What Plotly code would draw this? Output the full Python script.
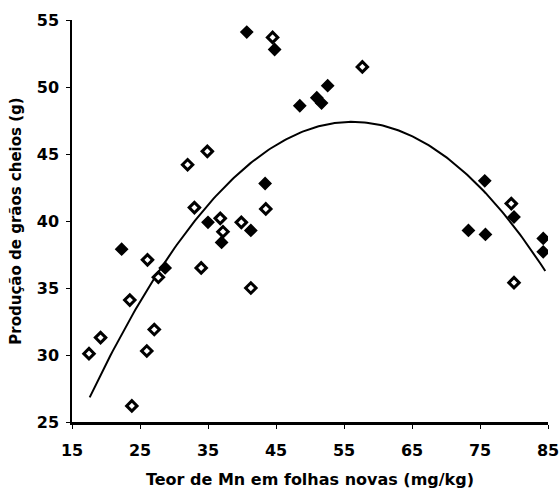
import plotly.graph_objects as go
import numpy as np

# Filled markers
filled_x = [40.7, 44.8, 48.5, 52.6, 51.0, 51.7, 75.7, 80.0, 43.4, 35.0, 41.3, 37.0, 22.3, 28.7, 73.3, 75.8, 84.3, 84.3]
filled_y = [54.1, 52.8, 48.6, 50.1, 49.2, 48.8, 43.0, 40.3, 42.8, 39.9, 39.3, 38.4, 37.9, 36.5, 39.3, 39.0, 38.7, 37.7]

# Open markers
open_x = [44.5, 57.7, 34.9, 32.0, 33.0, 43.5, 79.6, 36.8, 39.9, 37.2, 26.1, 27.7, 34.0, 41.3, 23.5, 27.1, 19.2, 26.0, 17.5, 23.8, 80.0]
open_y = [53.7, 51.5, 45.2, 44.2, 41.0, 40.9, 41.3, 40.2, 39.9, 39.2, 37.1, 35.8, 36.5, 35.0, 34.1, 31.9, 31.3, 30.3, 30.1, 26.2, 35.4]

# Quadratic trend line: y = a*(x-h)^2 + k
trend_a, trend_h, trend_k = -0.0138, 56.2, 47.4
trend_range = [17.6, 84.6]

x_ticks = [15, 25, 35, 45, 55, 65, 75, 85]
y_ticks = [25, 30, 35, 40, 45, 50, 55]

tx = np.linspace(trend_range[0], trend_range[1], 200)
ty = trend_a * (tx - trend_h) ** 2 + trend_k

fig = go.Figure()
fig.add_trace(go.Scatter(x=tx, y=ty, mode="lines",
                         line=dict(color="black", width=2), hoverinfo="skip"))
fig.add_trace(go.Scatter(x=open_x, y=open_y, mode="markers",
                         marker=dict(symbol="diamond", size=8, color="white",
                                     line=dict(color="black", width=3))))
fig.add_trace(go.Scatter(x=filled_x, y=filled_y, mode="markers",
                         marker=dict(symbol="diamond", size=9, color="black",
                                     line=dict(color="black", width=1.5))))

font_family = "DejaVu Sans, sans-serif"
fig.update_layout(
    width=559, height=493,
    margin=dict(l=72, r=11, t=20, b=71),
    paper_bgcolor="white", plot_bgcolor="white",
    showlegend=False,
    font=dict(family=font_family, color="black"),
    xaxis=dict(range=[15, 85], tickvals=x_ticks, ticktext=[str(v) for v in x_ticks],
               automargin=False,
               showgrid=False, zeroline=False, showline=True, linecolor="black", linewidth=3,
               ticks="outside", ticklen=4, tickcolor="black", ticklabelstandoff=8,
               ticklabeloverflow="allow",
               tickfont=dict(size=16, family=font_family, weight="bold"),
               title=dict(text="<b>Teor de Mn em folhas novas (mg/kg)</b>",
                          font=dict(size=16, family=font_family), standoff=15)),
    yaxis=dict(range=[25, 55], tickvals=y_ticks, ticktext=[str(v) for v in y_ticks],
               automargin=False,
               showgrid=False, zeroline=False, showline=True, linecolor="black", linewidth=1.5,
               ticks="outside", ticklen=4, tickcolor="black", ticklabelstandoff=4,
               tickfont=dict(size=16, family=font_family, weight="bold"),
               title=dict(text="<b>Produção de grãos cheios (g)</b>",
                          font=dict(size=15, family=font_family), standoff=12)),
)

fig.write_html("out.html")
